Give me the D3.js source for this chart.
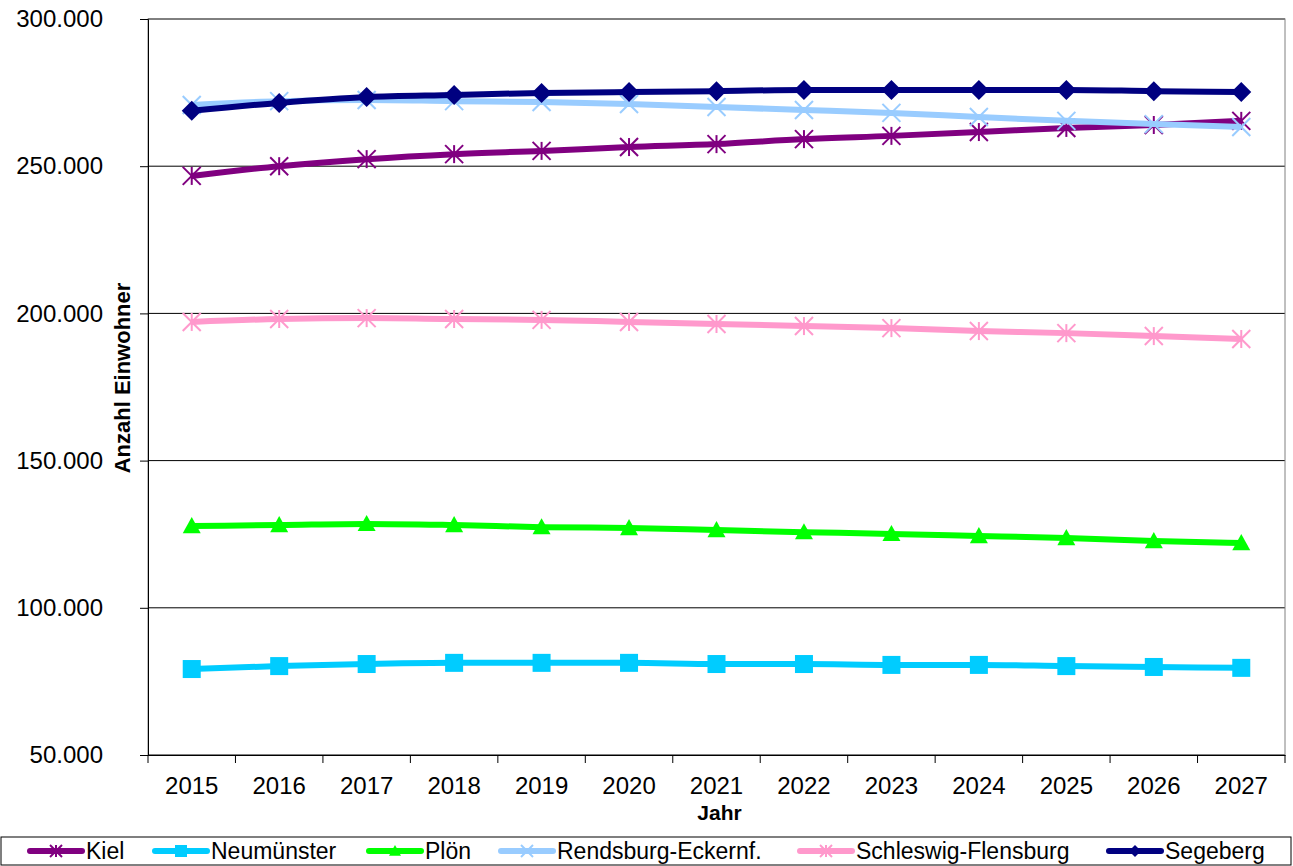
<!DOCTYPE html><html><head><meta charset="utf-8">
<script src="https://cdn.jsdelivr.net/npm/d3@7"></script>
<style>body{margin:0;background:#fff}svg, svg text{font-family:"Liberation Sans",Arial,sans-serif}</style></head><body>
<svg id="c" width="1293" height="866"></svg>
<script>
const years=["2015","2016","2017","2018","2019","2020","2021","2022","2023","2024","2025","2026","2027"];
const yTicks=[50000,100000,150000,200000,250000,300000];
const kiel=[246700,250000,252400,254100,255200,256500,257500,259200,260300,261600,263000,264000,265400];
const neumuenster=[79200,80200,80900,81300,81300,81300,80900,80900,80600,80600,80200,79900,79600];
const ploen=[127800,128100,128500,128100,127400,127100,126400,125700,125100,124400,123700,122700,122000];
const rendsburg=[270800,272100,272500,272100,271800,271100,270100,269100,268100,266700,265400,264300,263300];
const schleswig=[197100,198100,198400,198100,197800,197100,196400,195700,195000,194000,193300,192300,191300];
const segeberg=[268800,271500,273500,274200,274900,275200,275500,275900,275900,275900,275900,275500,275200];
const series=[
 {name:"Kiel",v:kiel,c:"#800080",m:"star",s:9},
 {name:"Neumünster",v:neumuenster,c:"#00ccff",m:"square",s:9},
 {name:"Plön",v:ploen,c:"#00ff00",m:"tri",s:9},
 {name:"Rendsburg-Eckernf.",v:rendsburg,c:"#99ccff",m:"x",s:9},
 {name:"Schleswig-Flensburg",v:schleswig,c:"#ff99cc",m:"star",s:9},
 {name:"Segeberg",v:segeberg,c:"#000080",m:"diamond",s:10}];
const svg=d3.select("#c");
const L=148,R=1285,T=19,B=755;
const x=d3.scaleBand().domain(years).range([L,R]);
const y=d3.scaleLinear().domain([50000,300000]).range([B,T]);
const fmt=d=>d3.format(",")(d).replace(/,/g,".");
svg.append("g").selectAll("line").data(yTicks).join("line").attr("x1",L).attr("x2",R)
 .attr("y1",d=>y(d)).attr("y2",d=>y(d)).attr("stroke","#000").attr("stroke-width",1);
svg.append("rect").attr("x",L).attr("y",T).attr("width",R-L).attr("height",B-T).attr("fill","none").attr("stroke","#808080");
const ya=svg.append("g").attr("transform",`translate(${L},0)`).call(d3.axisLeft(y).tickValues(yTicks).tickFormat(fmt).tickSize(8));
ya.attr("font-family",null).attr("font-size",null);
ya.selectAll("text").style("font-size","24px").attr("fill","#000").attr("x",-45);
ya.select(".domain").attr("stroke","#000");
const xa=svg.append("g").attr("transform",`translate(0,${B})`).call(d3.axisBottom(x).tickSize(0));
xa.attr("font-family",null).attr("font-size",null);
xa.selectAll("text").style("font-size","24px").attr("fill","#000").attr("y",22);
xa.select(".domain").attr("stroke","#000");
svg.append("g").selectAll("line").data(d3.range(years.length+1)).join("line")
 .attr("x1",i=>L+i*x.step()).attr("x2",i=>L+i*x.step()).attr("y1",B).attr("y2",B+8).attr("stroke","#000");
svg.append("text").attr("x",(L+R)/2+3).attr("y",820).attr("text-anchor","middle").style("font-size","21px").attr("font-weight","bold").text("Jahr");
svg.append("text").attr("transform",`translate(130,${(T+B)/2-9}) rotate(-90)`).attr("text-anchor","middle").style("font-size","22px").attr("font-weight","bold").text("Anzahl Einwohner");
function marker(g,type,cx,cy,s,c){
 if(type==="square")g.append("rect").attr("x",cx-s).attr("y",cy-s).attr("width",2*s).attr("height",2*s).attr("fill",c);
 else if(type==="diamond")g.append("path").attr("d",`M${cx},${cy-s}L${cx+s},${cy}L${cx},${cy+s}L${cx-s},${cy}Z`).attr("fill",c);
 else if(type==="tri")g.append("path").attr("d",`M${cx},${cy-s}L${cx+s},${cy+s*0.8}L${cx-s},${cy+s*0.8}Z`).attr("fill",c);
 else{const p=type==="star"?[[-s,-s,s,s],[-s,s,s,-s],[0,-s,0,s]]:[[-s,-s,s,s],[-s,s,s,-s]];
  p.forEach(a=>g.append("line").attr("x1",cx+a[0]).attr("y1",cy+a[1]).attr("x2",cx+a[2]).attr("y2",cy+a[3]).attr("stroke",c).attr("stroke-width",2));}
}
const line=d3.line().x((d,i)=>x(years[i])+x.bandwidth()/2).y(d=>y(d)).curve(d3.curveMonotoneX);
series.forEach(s=>{
 const g=svg.append("g");
 g.append("path").attr("d",line(s.v)).attr("fill","none").attr("stroke",s.c).attr("stroke-width",6);
 s.v.forEach((v,i)=>marker(g,s.m,x(years[i])+x.bandwidth()/2,y(v),s.s,s.c));
});
svg.append("rect").attr("x",1).attr("y",837).attr("width",1290).attr("height",28).attr("fill","#fff").attr("stroke","#000");
const lx=[86,211,425,557,856,1165];
series.forEach((s,i)=>{
 const g=svg.append("g");
 g.append("line").attr("x1",lx[i]-56).attr("x2",lx[i]-4).attr("y1",851).attr("y2",851).attr("stroke",s.c).attr("stroke-width",6).attr("stroke-linecap","round");
 marker(g,s.m,lx[i]-30,851,6,s.c);
 g.append("text").attr("x",lx[i]).attr("y",859).style("font-size","23px").text(s.name);
});
</script></body></html>
